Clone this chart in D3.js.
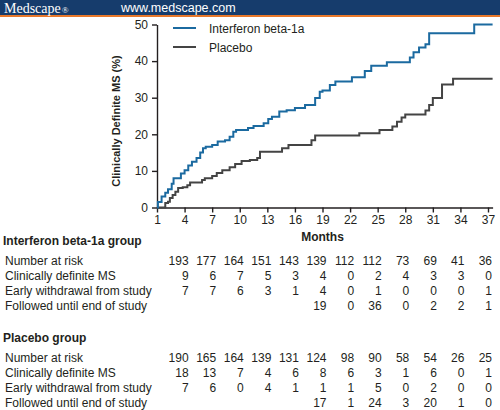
<!DOCTYPE html>
<html>
<head>
<meta charset="utf-8">
<script src="https://cdn.jsdelivr.net/npm/d3@7"></script>
<style>
  html, body { margin: 0; padding: 0; background: #ffffff; }
  #chart { width: 500px; height: 410px; }
</style>
</head>
<body>
<div id="chart"></div>
<script>
// Kaplan-Meier style step chart with at-risk table underneath

// Step points: [month, percent]
const interferonSteps = [
  [1, 0], [1.1, 1.5], [1.5, 3], [1.9, 4], [2.2, 5], [2.6, 6.5], [2.8, 8],
  [3.6, 9.3], [4.0, 10.2], [4.4, 11.5], [4.8, 12.5], [5.3, 13.5], [5.7, 15],
  [6.0, 16.2], [6.3, 16.6], [7.0, 17.1], [7.6, 18], [8.4, 18.4], [8.9, 19.3],
  [9.3, 20.7], [9.6, 21.2], [10.9, 21.7], [11.5, 22.3], [12.6, 23], [13.1, 24.2],
  [13.5, 24.8], [14.3, 26.2], [15.1, 26.6], [16.0, 27.2], [17.1, 28], [18.2, 29.9],
  [18.7, 31.6], [19.0, 32], [19.8, 33.5], [20.4, 34.4], [22.2, 35.6], [23.6, 37.3],
  [24.3, 38.7], [26.0, 39.7], [28.5, 41], [28.9, 42.4], [29.5, 43.7], [30.2, 44.6],
  [30.6, 47.6], [35.5, 50], [37.5, 50]
];

const placeboSteps = [
  [1, 0], [1.8, 0], [1.9, 1.2], [2.2, 1.6], [2.4, 2.6], [2.7, 3.4], [3.0, 4.3],
  [3.3, 5.3], [3.8, 5.5], [4.3, 6.1], [4.6, 6.8], [5.9, 7.5], [6.2, 8], [7.0, 8.6],
  [7.5, 9.4], [8.1, 10.2], [8.9, 11], [9.5, 11.9], [10.2, 12.7], [11.1, 13],
  [11.9, 13.5], [12.2, 15.2], [14.6, 16.2], [15.3, 17.1], [17.8, 18.4], [18.2, 19.7],
  [23.0, 20.3], [25.2, 21.2], [26.6, 22.1], [27.1, 23.4], [27.6, 24.6], [28.0, 25.4],
  [30.2, 26.5], [30.6, 28], [31.0, 29.9], [32.0, 33.6], [33.2, 35.2], [37.5, 35.2]
];

const seriesNames = ['Interferon beta-1a', 'Placebo'];
const monthTicks = [1, 4, 7, 10, 13, 16, 19, 22, 25, 28, 31, 34, 37];
const percentTicks = [0, 10, 20, 30, 40, 50];

// Table columns sit under months 4 ... 37
const tableMonths = [4, 7, 10, 13, 16, 19, 22, 25, 28, 31, 34, 37];
const rowLabels = [
  'Number at risk',
  'Clinically definite MS',
  'Early withdrawal from study',
  'Followed until end of study'
];

const interferonAtRisk = [193, 177, 164, 151, 143, 139, 112, 112, 73, 69, 41, 36];
const interferonMS = [9, 6, 7, 5, 3, 4, 0, 2, 4, 3, 3, 0];
const interferonWithdrawal = [7, 7, 6, 3, 1, 4, 0, 1, 0, 0, 0, 1];
const interferonFollowed = [null, null, null, null, null, 19, 0, 36, 0, 2, 2, 1];

const placeboAtRisk = [190, 165, 164, 139, 131, 124, 98, 90, 58, 54, 26, 25];
const placeboMS = [18, 13, 7, 4, 6, 8, 6, 3, 1, 6, 0, 1];
const placeboWithdrawal = [7, 6, 0, 4, 1, 1, 1, 5, 0, 2, 0, 0];
const placeboFollowed = [null, null, null, null, null, 17, 1, 24, 3, 20, 1, 0];

(function() {
  const fullWidth = 500;
  const fullHeight = 410;

  const textColor = '#231f20';
  const blue = '#1b6aa0';
  const gray = '#444444';
  const font = '"Liberation Sans", Arial, sans-serif';

  const svg = d3.select('#chart')
    .append('svg')
    .attr('width', fullWidth)
    .attr('height', fullHeight)
    .style('font-family', font);

  // Header band
  svg.append('rect')
    .attr('x', 0).attr('y', 0)
    .attr('width', fullWidth).attr('height', 15)
    .attr('fill', '#163c6c');

  svg.append('rect')
    .attr('x', 0).attr('y', 15)
    .attr('width', fullWidth).attr('height', 2)
    .attr('fill', '#e8782a');

  svg.append('text')
    .attr('x', 4)
    .attr('y', 12.5)
    .style('font-family', '"Liberation Serif", "DejaVu Serif", serif')
    .style('font-size', '14px')
    .style('fill', '#ffffff')
    .text('Medscape')
    .append('tspan')
    .style('font-size', '9px')
    .attr('dx', 1)
    .text('®');

  svg.append('text')
    .attr('x', 121)
    .attr('y', 12)
    .style('font-size', '12.5px')
    .style('fill', '#ffffff')
    .text('www.medscape.com');

  // Scales
  const x = d3.scaleLinear()
    .domain([1, 37.5])
    .range([157, 492.6]);

  const y = d3.scaleLinear()
    .domain([0, 50])
    .range([207.5, 24.5]);

  // Axes
  const xAxis = d3.axisBottom(x)
    .tickValues(monthTicks)
    .tickFormat(d => d)
    .tickSizeInner(5)
    .tickSizeOuter(0)
    .tickPadding(3);

  const yAxis = d3.axisLeft(y)
    .tickValues(percentTicks)
    .tickFormat(d => d)
    .tickSizeInner(5)
    .tickSizeOuter(0)
    .tickPadding(4);

  const xAxisGroup = svg.append('g')
    .attr('transform', `translate(0, ${y(0)})`)
    .call(xAxis);

  const yAxisGroup = svg.append('g')
    .attr('transform', `translate(${x(1)}, 0)`)
    .call(yAxis);

  [xAxisGroup, yAxisGroup].forEach(g => {
    g.select('.domain')
      .attr('stroke', textColor)
      .attr('stroke-width', 1.4);
    g.selectAll('.tick line')
      .attr('stroke', textColor)
      .attr('stroke-width', 1.4);
    g.selectAll('.tick text')
      .style('font-family', font)
      .style('font-size', '12px')
      .style('fill', textColor);
  });

  // Axis titles
  svg.append('text')
    .attr('x', x(19))
    .attr('y', 241)
    .attr('text-anchor', 'middle')
    .style('font-size', '12px')
    .style('font-weight', 'bold')
    .style('fill', textColor)
    .text('Months');

  svg.append('text')
    .attr('transform', 'translate(120, 121) rotate(-90)')
    .attr('text-anchor', 'middle')
    .style('font-size', '11px')
    .style('font-weight', 'bold')
    .style('fill', textColor)
    .text('Clinically Definite MS (%)');

  // Step lines
  const line = d3.line()
    .x(d => x(d[0]))
    .y(d => y(d[1]))
    .curve(d3.curveStepAfter);

  svg.append('path')
    .datum(placeboSteps)
    .attr('d', line)
    .attr('fill', 'none')
    .attr('stroke', gray)
    .attr('stroke-width', 2);

  svg.append('path')
    .datum(interferonSteps)
    .attr('d', line)
    .attr('fill', 'none')
    .attr('stroke', blue)
    .attr('stroke-width', 2);

  // Legend
  const legend = svg.append('g')
    .selectAll('g')
    .data(seriesNames)
    .enter()
    .append('g')
    .attr('transform', (d, i) => `translate(0, ${28 + i * 19})`);

  legend.append('line')
    .attr('x1', 173).attr('x2', 196)
    .attr('y1', 0).attr('y2', 0)
    .attr('stroke', (d, i) => i === 0 ? blue : gray)
    .attr('stroke-width', 2);

  legend.append('text')
    .attr('x', 209)
    .attr('y', 4.5)
    .style('font-size', '12px')
    .style('fill', textColor)
    .text(d => d);

  // At-risk tables
  const groups = [
    {
      title: 'Interferon beta-1a group',
      top: 245,
      rows: [interferonAtRisk, interferonMS, interferonWithdrawal, interferonFollowed]
    },
    {
      title: 'Placebo group',
      top: 342,
      rows: [placeboAtRisk, placeboMS, placeboWithdrawal, placeboFollowed]
    }
  ];

  groups.forEach(group => {
    svg.append('text')
      .attr('x', 3)
      .attr('y', group.top)
      .style('font-size', '12px')
      .style('font-weight', 'bold')
      .style('fill', textColor)
      .text(group.title);

    group.rows.forEach((values, r) => {
      const rowY = group.top + 20 + r * 15;

      svg.append('text')
        .attr('x', 5)
        .attr('y', rowY)
        .style('font-size', '12px')
        .style('fill', textColor)
        .text(rowLabels[r]);

      svg.selectAll(null)
        .data(values.map((v, i) => ({ v: v, m: tableMonths[i] })).filter(d => d.v !== null))
        .enter()
        .append('text')
        .attr('x', d => x(d.m) + 4)
        .attr('y', rowY)
        .attr('text-anchor', 'end')
        .style('font-size', '12px')
        .style('fill', textColor)
        .text(d => d.v);
    });
  });
})();
</script>
</body>
</html>
